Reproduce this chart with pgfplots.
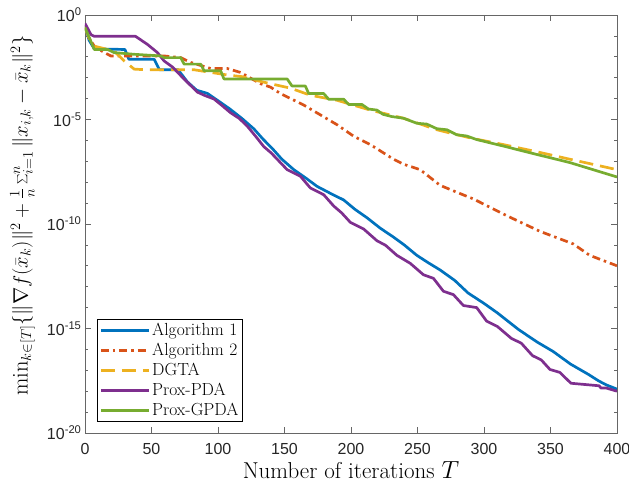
\documentclass[border=0pt]{standalone}
\usepackage{pgfplots}
\pgfplotsset{compat=1.18}
\usepackage{fontspec}
\setsansfont{Liberation Sans}
\definecolor{mblue}{rgb}{0,0.447,0.741}
\definecolor{morange}{rgb}{0.850,0.325,0.098}
\definecolor{myellow}{rgb}{0.929,0.694,0.125}
\definecolor{mpurple}{rgb}{0.494,0.184,0.556}
\definecolor{mgreen}{rgb}{0.466,0.674,0.188}
\begin{document}
\begin{tikzpicture}
\begin{axis}[name=ax, scale only axis, width=532bp, height=418bp,
  xmin=0, xmax=400, ymin=-20, ymax=0,
  xtick={0,50,...,400}, xticklabels={0,50,100,150,200,250,300,350,400},
  ytick={-20,-15,-10,-5,0},
  yticklabels={10\textsuperscript{-20},10\textsuperscript{-15},10\textsuperscript{-10},10\textsuperscript{-5},10\textsuperscript{0}},
  minor ytick={-19,-18,-17,-16,-14,-13,-12,-11,-9,-8,-7,-6,-4,-3,-2,-1},
  tick align=inside, major tick length=6bp, minor tick length=3.5bp,
  axis line style={black!60, line width=0.7bp},
  every tick/.style={black!60, line width=0.6bp},
  ticklabel style={font=\fontsize{16bp}{18bp}\selectfont\sffamily, text=black!85},
  xticklabel style={yshift=-7bp},
  xlabel={Number of iterations $T$},
  xlabel style={font=\fontsize{23bp}{26bp}\selectfont},
  ylabel={$\min_{k\in[T]}\{\|\nabla f(\bar{x}_k)\|^2+\frac{1}{n}\sum_{i=1}^n\|x_{i,k}-\bar{x}_k\|^2\}$},
  ylabel style={font=\fontsize{22.5bp}{25bp}\selectfont, at={(rel axis cs:-0.094,0.52)}, anchor=south, inner sep=0pt},
  legend style={at={(0.023,0.027)}, anchor=south west, font=\fontsize{17.5bp}{19bp}\selectfont, draw=black, line width=0.6bp, inner sep=2bp, row sep=2.2bp},
  legend cell align=left,
  legend image code/.code={\draw[#1] (0bp,0bp) -- (48bp,0bp);},
]
\addplot[mblue, line width=2.7bp, line join=round] coordinates {(0,-0.5)(3,-1.2)(7,-1.62)(30,-1.65)(33,-2.12)(52,-2.12)(56,-2.62)(70,-2.62)(77,-3.2)(84,-3.6)(92,-3.75)(100,-4.1)(109,-4.5)(118,-4.95)(127,-5.45)(134,-5.95)(141,-6.4)(148,-6.9)(157,-7.4)(166,-7.8)(174.5,-8.2)(185,-8.55)(194.5,-8.85)(203,-9.3)(212,-9.7)(222,-10.2)(232,-10.63)(240,-11.0)(249.5,-11.5)(258,-11.85)(267,-12.2)(278,-12.7)(288,-13.3)(300,-13.8)(310,-14.25)(326,-15.05)(340,-15.65)(352,-16.1)(365,-16.7)(378.6,-17.2)(386,-17.5)(392,-17.7)(400,-17.9)};
\addlegendentry{Algorithm 1}
\addplot[morange, line width=2.7bp, dash pattern=on 8bp off 4bp on 2.5bp off 4bp] coordinates {(0,-0.5)(3,-1.1)(7,-1.49)(14.5,-1.8)(19.5,-1.96)(59.5,-1.96)(72,-2.04)(79.5,-2.27)(94.5,-2.56)(107,-2.56)(117,-2.75)(132,-3.29)(139.5,-3.45)(147,-3.76)(164.5,-4.31)(189.5,-5.25)(202,-5.8)(214.5,-6.2)(232,-6.9)(239.5,-7.14)(252,-7.4)(267,-8.15)(279.5,-8.48)(292,-8.8)(317,-9.6)(342,-10.35)(367,-10.95)(379.5,-11.5)(400,-12.0)};
\addlegendentry{Algorithm 2}
\addplot[myellow, line width=2.7bp, dash pattern=on 14bp off 7bp] coordinates {(0,-0.6)(3,-1.1)(7,-1.49)(22,-1.73)(29.5,-2.2)(37,-2.59)(45.7,-2.62)(82,-2.62)(90,-2.7)(107,-2.87)(118,-2.95)(129.5,-3.14)(139.5,-3.29)(154.5,-3.5)(169.5,-3.84)(189.5,-4.08)(214.5,-4.55)(239.5,-4.94)(264.5,-5.49)(289.5,-5.88)(314.5,-6.2)(339.5,-6.54)(364.5,-6.9)(400,-7.4)};
\addlegendentry{DGTA}
\addplot[mpurple, line width=2.7bp, line join=round] coordinates {(0,-0.4)(4.5,-0.94)(7,-1.02)(38,-1.02)(47,-1.41)(54.5,-1.8)(59.5,-2.2)(66,-2.5)(72,-2.9)(77,-3.22)(84.5,-3.69)(90,-3.85)(97,-4.02)(103,-4.33)(109.5,-4.68)(116,-4.95)(122,-5.32)(128,-5.78)(134.5,-6.3)(140,-6.6)(146,-7.0)(152,-7.4)(162,-7.72)(169.5,-8.28)(179.5,-8.6)(187,-9.14)(193,-9.47)(199.5,-9.92)(209.5,-10.24)(219.5,-10.8)(226,-11.02)(234.5,-11.5)(244.5,-11.88)(254.5,-12.43)(262,-12.6)(269.5,-13.22)(277,-13.38)(284.5,-13.9)(294.5,-14.0)(302,-14.65)(310,-14.9)(320.7,-15.48)(328,-15.7)(336.5,-16.3)(343,-16.5)(349.6,-16.96)(357,-17.1)(365.4,-17.62)(386.5,-17.74)(388,-17.85)(392,-17.85)(400,-18.0)};
\addlegendentry{Prox-PDA}
\addplot[mgreen, line width=2.7bp, line join=round] coordinates {(0,-0.6)(2,-0.9)(7,-1.65)(17,-1.65)(22,-1.8)(37,-1.88)(57,-1.96)(59.5,-2.04)(72,-2.04)(74.5,-2.35)(87,-2.35)(89.5,-2.67)(102,-2.67)(104.5,-3.06)(152,-3.06)(155.7,-3.4)(165.7,-3.4)(168.2,-3.76)(179.5,-3.76)(183.2,-4.03)(194.5,-4.03)(198.2,-4.28)(208.2,-4.28)(213.2,-4.5)(219.5,-4.55)(224,-4.75)(230.7,-4.86)(239.5,-4.94)(249.5,-5.18)(257,-5.22)(264.5,-5.44)(272,-5.49)(279.5,-5.73)(287,-5.79)(294.5,-5.96)(314.5,-6.27)(339.5,-6.67)(364.5,-7.06)(400,-7.75)};
\addlegendentry{Prox-GPDA}
\end{axis}
\pgfresetboundingbox
\path[use as bounding box] ([xshift=-85bp,yshift=-59bp]ax.south west) rectangle ([xshift=12bp,yshift=15bp]ax.north east);
\end{tikzpicture}
\end{document}
